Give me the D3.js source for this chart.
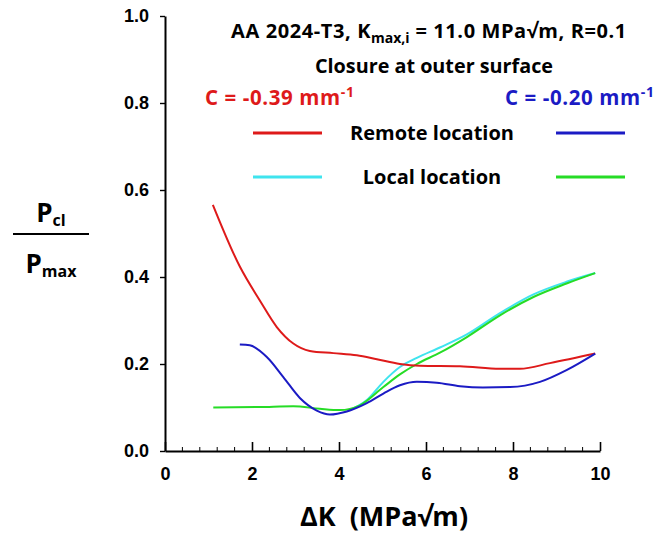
<!DOCTYPE html>
<html>
<head>
<meta charset="utf-8">
<script src="https://cdnjs.cloudflare.com/ajax/libs/d3/7.8.5/d3.min.js"></script>
<style>
	body { margin: 0; background: #fff; }
	svg { display: block; }
	.tick_lab { font-family: "Liberation Sans", Arial, sans-serif; font-weight: bold; font-size: 18px; }
	.cal { font-family: "Open Sans", "Noto Sans", sans-serif; font-weight: bold; white-space: pre; }
</style>
</head>
<body>
<svg id="chart" width="664" height="536"></svg>
<script>
	"use strict";

	// data: [dK, Pcl/Pmax]
	var red_remote = [[1.10,0.566],[1.72,0.424],[2.18,0.346],[2.57,0.285],[2.95,0.247],[3.33,0.230],[3.87,0.225],
		[4.41,0.220],[4.87,0.211],[5.40,0.200],[5.86,0.196],[6.78,0.195],[7.70,0.189],[8.16,0.189],[8.85,0.202],[9.89,0.224]];
	var blue_remote = [[1.72,0.245],[1.95,0.243],[2.34,0.216],[2.72,0.170],[3.10,0.122],[3.49,0.093],[3.79,0.084],
		[4.18,0.091],[4.64,0.110],[5.02,0.132],[5.40,0.151],[5.79,0.159],[6.25,0.157],[6.78,0.149],[7.31,0.146],
		[7.93,0.147],[8.62,0.159],[9.23,0.186],[9.89,0.224]];
	var cyan_local = [[4.20,0.092],[4.64,0.117],[5.02,0.159],[5.40,0.193],[5.79,0.214],[6.32,0.238],[6.94,0.268],
		[7.70,0.317],[8.47,0.360],[9.23,0.389],[9.89,0.409]];
	var green_local = [[1.11,0.100],[2.18,0.101],[2.95,0.103],[3.56,0.097],[4.02,0.094],[4.48,0.105],[5.02,0.147],
		[5.40,0.176],[5.79,0.200],[6.32,0.226],[6.94,0.262],[7.70,0.312],[8.47,0.354],[9.23,0.385],[9.89,0.409]];

	var x_ticks = [0, 2, 4, 6, 8, 10];
	var y_ticks = [0, 0.2, 0.4, 0.6, 0.8, 1.0];

	var col_red = "#de1a1a", col_blue = "#1b1bc4", col_cyan = "#3fe4ee", col_green = "#26dc26";

	var svg = d3.select("#chart");
	var x = d3.scaleLinear().domain([0, 10]).range([165, 600]);
	var y = d3.scaleLinear().domain([0, 1]).range([451, 16]);

	/////////////////////////////////////////
	// axes
	var x_axis = d3.axisBottom(x).tickValues(x_ticks).tickSizeInner(-9).tickSizeOuter(0).tickFormat(d3.format("d"));
	var gx = svg.append("g").attr("transform", "translate(0," + y(0) + ")").call(x_axis);
	gx.select(".domain").attr("stroke-width", 2);
	gx.selectAll(".tick line").attr("stroke-width", 1.6);
	gx.selectAll(".tick text").attr("class", "tick_lab").attr("y", 29).attr("dy", null).attr("fill", "#000");

	var minor = d3.range(0, 10.01, 0.4).filter(function(v){ return Math.abs(v/2 - Math.round(v/2)) > 0.01; });
	svg.append("g").selectAll("line").data(minor).join("line")
		.attr("x1", function(d){ return x(d); }).attr("x2", function(d){ return x(d); })
		.attr("y1", y(0)).attr("y2", y(0) - 4)
		.attr("stroke", "#000").attr("stroke-width", 1);

	var y_axis = d3.axisLeft(y).tickValues(y_ticks).tickSizeInner(5).tickSizeOuter(0).tickFormat(d3.format(".1f"));
	var gy = svg.append("g").attr("transform", "translate(" + x(0) + ",0)").call(y_axis);
	gy.select(".domain").attr("stroke-width", 2);
	gy.selectAll(".tick line").attr("stroke-width", 1.4);
	gy.selectAll(".tick text").attr("class", "tick_lab").attr("x", -16).attr("fill", "#000");

	/////////////////////////////////////////
	// curves
	var line = d3.line().x(function(d){ return x(d[0]); }).y(function(d){ return y(d[1]); }).curve(d3.curveMonotoneX);
	var series = [[cyan_local, col_cyan], [green_local, col_green], [red_remote, col_red], [blue_remote, col_blue]];
	svg.append("g").selectAll("path").data(series).join("path")
		.attr("d", function(d){ return line(d[0]); })
		.attr("fill", "none").attr("stroke", function(d){ return d[1]; }).attr("stroke-width", 2);

	/////////////////////////////////////////
	// title, legend
	var t1 = svg.append("text").attr("class", "cal").attr("x", 429).attr("y", 38).attr("text-anchor", "middle")
		.style("font-size", "20px").style("letter-spacing", "0.6px");
	t1.append("tspan").text("AA 2024-T3, K");
	t1.append("tspan").attr("dy", 5).style("font-size", "14px").style("letter-spacing", "0").text("max,i");
	t1.append("tspan").attr("dy", -5).text(" = 11.0 MPa\u221Am, R=0.1");

	svg.append("text").attr("class", "cal").attr("x", 434).attr("y", 73).attr("text-anchor", "middle")
		.style("font-size", "19.8px").text("Closure at outer surface");

	function c_label(xp, txt, col){
		var t = svg.append("text").attr("class", "cal").attr("x", xp).attr("y", 105).attr("fill", col)
			.style("font-size", "20.5px").style("letter-spacing", "0.6px");
		t.append("tspan").text(txt);
		t.append("tspan").attr("dy", -8).style("font-size", "14px").text("-1");
	}
	c_label(205, "C = -0.39 mm", col_red);
	c_label(505, "C = -0.20 mm", col_blue);

	var legend = [[133, "Remote location", col_red, col_blue], [177, "Local location", col_cyan, col_green]];
	legend.forEach(function(d){
		svg.append("line").attr("x1", 253).attr("x2", 322).attr("y1", d[0]).attr("y2", d[0]).attr("stroke", d[2]).attr("stroke-width", 3);
		svg.append("line").attr("x1", 556).attr("x2", 625).attr("y1", d[0]).attr("y2", d[0]).attr("stroke", d[3]).attr("stroke-width", 3);
		svg.append("text").attr("class", "cal").attr("x", 432).attr("y", d[0] + 7).attr("text-anchor", "middle")
			.style("font-size", "20px").text(d[1]);
	});

	/////////////////////////////////////////
	// axis titles
	svg.append("text").attr("class", "cal").attr("x", 384).attr("y", 526).attr("text-anchor", "middle")
		.style("font-size", "27px").text("\u0394K  (MPa\u221Am)");

	var pcl = svg.append("text").attr("class", "cal").attr("x", 51).attr("y", 222).attr("text-anchor", "middle").style("font-size", "26px");
	pcl.append("tspan").text("P");
	pcl.append("tspan").attr("dy", 4).style("font-size", "16px").text("cl");
	svg.append("line").attr("x1", 13).attr("x2", 89).attr("y1", 234).attr("y2", 234).attr("stroke", "#000").attr("stroke-width", 2);
	var pmax = svg.append("text").attr("class", "cal").attr("x", 51).attr("y", 273).attr("text-anchor", "middle").style("font-size", "26px");
	pmax.append("tspan").text("P");
	pmax.append("tspan").attr("dy", 4).style("font-size", "16px").text("max");
</script>
</body>
</html>
